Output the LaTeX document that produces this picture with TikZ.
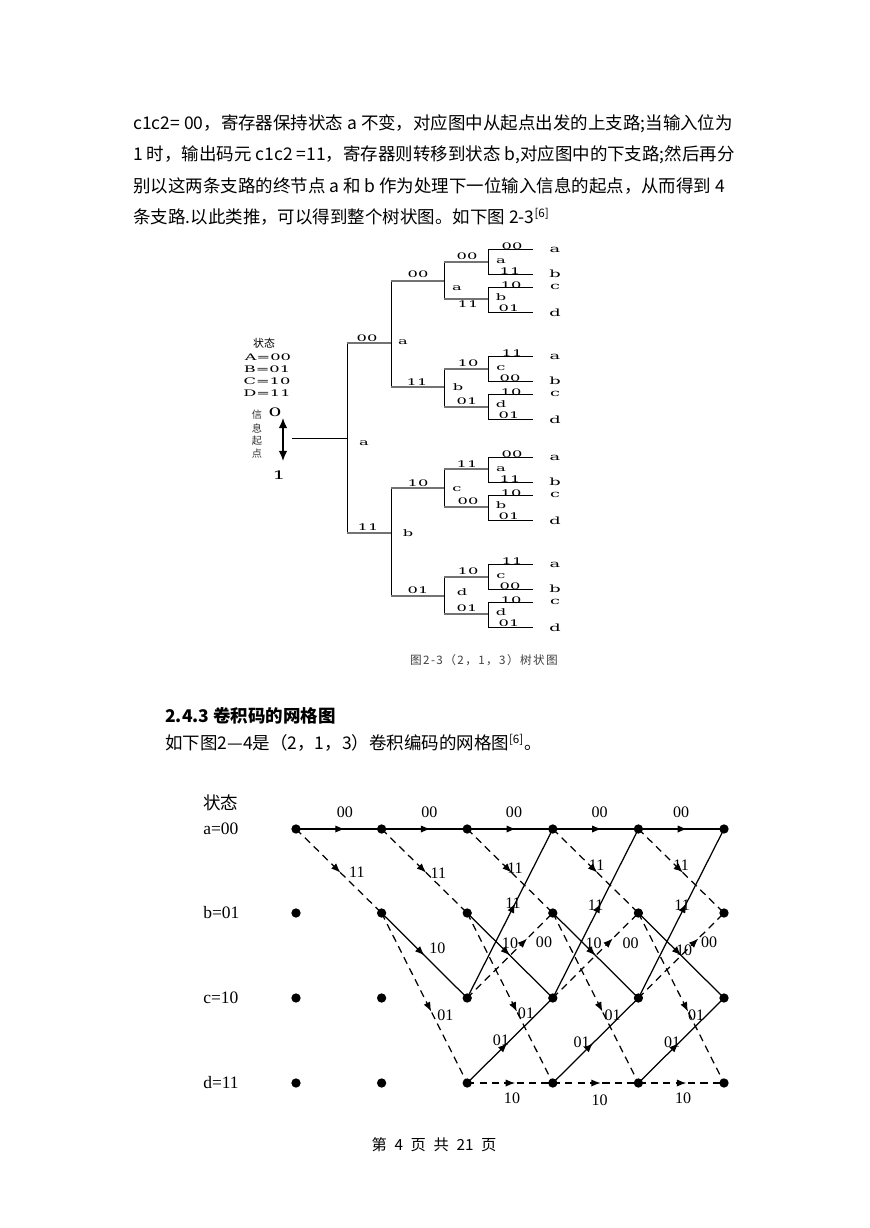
\documentclass[tikz,border=0pt]{standalone}
\usepackage{fontspec}
\setmainfont{Liberation Serif}
\newfontfamily\cjk{Noto Sans CJK SC}
\newfontfamily\capfont[LetterSpace=12]{Noto Sans CJK SC}
\newfontfamily\treefont[FakeStretch=1.8]{DejaVu Serif}
\usetikzlibrary{
  arrows.meta,
  calc,
  decorations.markings
}

\tikzset{
  para/.style = {anchor=west, inner sep=0pt, font=\cjk\fontsize{12pt}{14pt}\selectfont},
  tdot/.style = {circle, fill=black, inner sep=0pt, minimum size=6.4pt},
  solidedge/.style = {line width=0.85pt},
  dashedge/.style = {line width=0.85pt, dash pattern=on 5pt off 3.5pt},
  midarrow/.style = {postaction={decorate}, decoration={markings,
      mark=at position #1 with {\arrow{Latex[length=6.5pt,width=5pt]}}}},
  lbl/.style = {inner sep=0pt, font=\fontsize{11pt}{13pt}\selectfont},
  statelbl/.style = {anchor=west, inner sep=0pt, font=\fontsize{12pt}{14pt}\selectfont},
  twig/.style = {line width=0.55pt},
  bough/.style = {line width=0.95pt, black!55},
  tlbl/.style = {inner sep=0pt, font=\treefont\fontsize{6.2pt}{7pt}\selectfont},
  leaflbl/.style = {inner sep=0pt, font=\treefont\fontsize{6.8pt}{7pt}\selectfont}
}

\begin{document}
\begin{tikzpicture}[x=0.6866pt, y=-0.6866pt]
  \tikzset{>=latex}
  \fill[white] (0,0) rectangle (869,1228);
  \useasboundingbox (0,0) rectangle (869,1228);

  % running text
  \node[para] (line1) at (133,124) {c1c2= 00，寄存器保持状态 a 不变，对应图中从起点出发的上支路;当输入位为};
  \node[para] (line2) at (133,155) {1 时，输出码元 c1c2 =11，寄存器则转移到状态 b,对应图中的下支路;然后再分};
  \node[para] (line3) at (133,186) {别以这两条支路的终节点 a 和 b 作为处理下一位输入信息的起点，从而得到 4};
  \node[para] (line4) at (133,217) {条支路.以此类推，可以得到整个树状图。如下图 2-3\textsuperscript{[6]}};

  % tree diagram
  \coordinate (rootL) at (292,438);
  \coordinate (rootR) at (347,438);
  \draw[twig] (rootL) -- (rootR);
  \draw[twig] (347,343) -- (347,533);
  \draw[bough] (347,343) -- (391,343) (347,533) -- (391,533);
  \foreach \ya/\yb in {281/387, 488/596} {
    \draw[twig] (391,\ya) -- (391,\yb);
    \draw[bough] (391,\ya) -- (444,\ya) (391,\yb) -- (444,\yb);
  }
  \foreach \ya/\yb in {262/299, 369/407, 469/507, 577/614} {
    \draw[twig] (444,\ya) -- (444,\yb);
    \draw[bough] (444,\ya) -- (488,\ya) (444,\yb) -- (488,\yb);
  }
  \foreach \ya/\yb/\yc/\yd/\la/\lb/\sa/\sb [count=\q] in
      {249/274/287/312/00/11/a/b, 356/381/394/419/11/00/c/d,
       457/482/495/520/00/11/a/b, 564/589/602/627/11/00/c/d} {
    \draw[twig] (533,\ya) -- (488,\ya) -- (488,\yb) -- (533,\yb);
    \draw[twig] (533,\yc) -- (488,\yc) -- (488,\yd) -- (533,\yd);
    \node[tlbl] (q\q-1) at (512,\ya-3) {\la};
    \node[tlbl] (q\q-2) at (501,\ya+12) {\sa};
    \node[tlbl] (q\q-3) at (510,\yb-3) {\lb};
    \node[tlbl] (q\q-4) at (511,\yc-2) {10};
    \node[tlbl] (q\q-5) at (501,\yc+10) {\sb};
    \node[tlbl] (q\q-6) at (509,\yd-4) {01};
    \node[leaflbl] (q\q-a) at (555,\ya+1) {a};
    \node[leaflbl] (q\q-b) at (555,\yb) {b};
    \node[leaflbl] (q\q-c) at (555,\yc) {c};
    \node[leaflbl] (q\q-d) at (555,\yd+1) {d};
  }
  \foreach \x/\y/\t [count=\k] in
      {467/256/00, 457/288/a, 468/304/11,
       468/363/10, 458/387/b, 467/401/01,
       467/464/11, 457/489/c, 468/501/00,
       468/571/10, 462/592/d, 467/608/01,
       418/274/00, 403/342/a, 417/382/11,
       418/483/10, 408/533/b, 418/590/01,
       367/338/00, 368/527/11, 364/443/a}
    \node[tlbl] (br\k) at (\x,\y) {\t};

  % legend of the tree
  \node[font=\cjk\fontsize{7.5pt}{8pt}\selectfont, inner sep=0pt] (zt) at (264,343) {状态};
  \node[tlbl] (kA) at (268,357) {A=00};
  \node[tlbl] (kB) at (267,369) {B=01};
  \node[tlbl] (kC) at (267,381) {C=10};
  \node[tlbl] (kD) at (267,393) {D=11};
  \foreach \c/\y [count=\k] in {信/415, 息/428, 起/441, 点/454}
    \node[font=\cjk\fontsize{7pt}{8pt}\selectfont, inner sep=0pt, black!80] (xx\k) at (257,\y) {\c};
  \node[tlbl, font=\treefont\fontsize{8pt}{9pt}\selectfont] (in0) at (275,412) {0};
  \node[tlbl, font=\treefont\fontsize{8pt}{9pt}\selectfont] (in1) at (279,475) {1};
  \coordinate (arrT) at (283,418);
  \coordinate (arrB) at (283,461);
  \draw[line width=1pt, {Latex[length=7pt,width=6pt]}-{Latex[length=7pt,width=6pt]}] (arrT) -- (arrB);

  \node[font=\capfont\fontsize{8pt}{9pt}\selectfont, text=black!75, inner sep=0pt] (cap23) at (484,660) {图2-3（2，1，3）树状图};

  % section
  \node[para, font=\cjk\bfseries\fontsize{12pt}{14pt}\selectfont] (sec) at (165,716) {2.4.3 卷积码的网格图};
  \node[para] (intro) at (165,743) {如下图2—4是（2，1，3）卷积编码的网格图\textsuperscript{[6]}。};

  % trellis
  \node[statelbl, font=\cjk\fontsize{12pt}{14pt}\selectfont] (zt2) at (203,803) {状态};
  \node[statelbl] (sa) at (203,829) {a=00};
  \node[statelbl] (sb) at (203,913) {b=01};
  \node[statelbl] (sc) at (203,998) {c=10};
  \node[statelbl] (sd) at (203,1083) {d=11};

  \foreach \r/\yy in {a/829, b/913, c/998, d/1083}
    \foreach \i in {0,...,5}
      \node[tdot] (\r\i) at ({296+85.6*\i},\yy) {};

  % a -> a
  \foreach \i/\j/\dx in {0/1/6, 1/2/5, 2/3/4, 3/4/4, 4/5/0} {
    \draw[solidedge, midarrow=0.57] (a\i.center) -- (a\j.center);
    \node[lbl] (laa\i) at ($(a\i)!0.5!(a\j)+(\dx,-17)$) {00};
  }
  % a -> b
  \foreach \i/\j/\dx/\dy in {0/1/18/1, 1/2/14/2, 2/3/5/-3, 3/4/1/-6, 4/5/0/-6} {
    \draw[dashedge, midarrow=0.52] (a\i.center) -- (b\j.center);
    \node[lbl] (lab\i) at ($(a\i)!0.5!(b\j)+(\dx,\dy)$) {11};
  }
  % b -> c
  \foreach \i/\j/\dx/\dy in {1/2/13/-7, 2/3/0/-12, 3/4/-2/-12, 4/5/3/-5} {
    \draw[solidedge, midarrow=0.5] (b\i.center) -- (c\j.center);
    \node[lbl] (lbc\i) at ($(b\i)!0.5!(c\j)+(\dx,\dy)$) {10};
  }
  % b -> d
  \foreach \i/\j/\dx/\dy in {1/2/21/17, 2/3/16/15, 3/4/17/17, 4/5/15/17} {
    \draw[dashedge, midarrow=0.58] (b\i.center) -- (d\j.center);
    \node[lbl] (lbd\i) at ($(b\i)!0.5!(d\j)+(\dx,\dy)$) {01};
  }
  % c -> a
  \foreach \i/\j/\dx/\dy in {2/3/3/-10, 3/4/0/-8, 4/5/1/-8} {
    \draw[solidedge, midarrow=0.56] (c\i.center) -- (a\j.center);
    \node[lbl] (lca\i) at ($(c\i)!0.5!(a\j)+(\dx,\dy)$) {11};
  }
  % c -> b
  \foreach \i/\j/\dx/\dy in {2/3/34/-13, 3/4/35/-12, 4/5/28/-13} {
    \draw[dashedge, midarrow=0.7] (c\i.center) -- (b\j.center);
    \node[lbl] (lcb\i) at ($(c\i)!0.5!(b\j)+(\dx,\dy)$) {00};
  }
  % d -> c
  \foreach \i/\j/\dx/\dy in {2/3/-9/0, 3/4/-14/2, 4/5/-9/2} {
    \draw[solidedge, midarrow=0.47] (d\i.center) -- (c\j.center);
    \node[lbl] (ldc\i) at ($(d\i)!0.5!(c\j)+(\dx,\dy)$) {01};
  }
  % d -> d
  \foreach \i/\j/\dx/\dy in {2/3/2/15, 3/4/4/17, 4/5/2/15} {
    \draw[dashedge, midarrow=0.56] (d\i.center) -- (d\j.center);
    \node[lbl] (ldd\i) at ($(d\i)!0.5!(d\j)+(\dx,\dy)$) {10};
  }

  \node[font=\cjk\fontsize{10.5pt}{12pt}\selectfont] (foot) at (434,1145) {第\enspace 4\enspace 页\enspace 共\enspace 21\enspace 页};
\end{tikzpicture}
\end{document}
